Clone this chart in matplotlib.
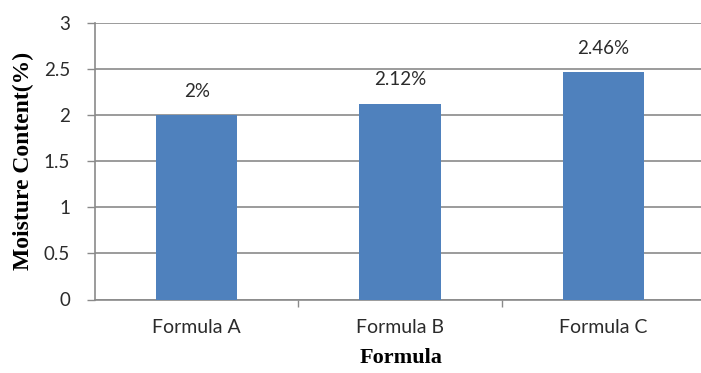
import matplotlib
matplotlib.use("Agg")
import matplotlib.pyplot as plt

categories = ["Formula A", "Formula B", "Formula C"]
moisture = [2.00, 2.12, 2.46]
value_labels = ["2%", "2.12%", "2.46%"]
y_ticks = [0, 0.5, 1, 1.5, 2, 2.5, 3]
y_tick_labels = ["0", "0.5", "1", "1.5", "2", "2.5", "3"]

W, H = 701, 373
fig = plt.figure(figsize=(W / 100, H / 100), dpi=100)
# plot area runs slightly past the right edge of the canvas
left, right, bottom, top = 95, 705, 73.5, 350.5
ax = fig.add_axes([left / W, bottom / H, (right - left) / W, (top - bottom) / H])

grid_color = "#8a8a8a"
bar_color = "#4f81bd"
text_color = "#2b2b2b"
tick_font = "Lato"

x = list(range(len(categories)))
ax.bar(x, moisture, width=0.4, color=bar_color, zorder=3)

ax.set_xlim(-0.5, len(categories) - 0.5)
ax.set_ylim(0, 3)
ax.set_yticks(y_ticks)
ax.set_yticklabels(y_tick_labels, fontsize=13.5, family=tick_font, color=text_color)
ax.yaxis.grid(True, color=grid_color, linewidth=1.2, zorder=0)

ax.set_xticks(x)
ax.set_xticklabels(categories, fontsize=14, family=tick_font, color=text_color)
ax.set_xticks([i + 0.5 for i in x[:-1]], minor=True)
ax.tick_params(axis="x", which="major", length=0, pad=14)
ax.tick_params(axis="x", which="minor", length=5, width=1, color=grid_color, direction="out")
ax.tick_params(axis="y", length=6, width=1, color=grid_color, direction="out", pad=12)

for side in ("top", "right"):
    ax.spines[side].set_visible(False)
for side in ("left", "bottom"):
    ax.spines[side].set_color(grid_color)
    ax.spines[side].set_linewidth(1.2)

for xi, v, lab in zip(x, moisture, value_labels):
    ax.annotate(lab, (xi, v), xytext=(0, 11), textcoords="offset points",
                ha="center", va="bottom", fontsize=13.5, family=tick_font,
                color=text_color)

ax.set_ylabel("Moisture Content(%)", family="Liberation Serif", fontweight="bold",
              fontsize=17, color="black")
ax.yaxis.set_label_coords((23 - left) / (right - left), 0.5)
ax.set_xlabel("Formula", family="Liberation Serif", fontweight="bold",
              fontsize=16, color="black")
ax.xaxis.set_label_coords((401 - left) / (right - left), -(358 - (H - bottom)) / (top - bottom))
ax.xaxis.label.set_va("center")
ax.yaxis.label.set_va("center")

fig.savefig("out.png", dpi=100)
